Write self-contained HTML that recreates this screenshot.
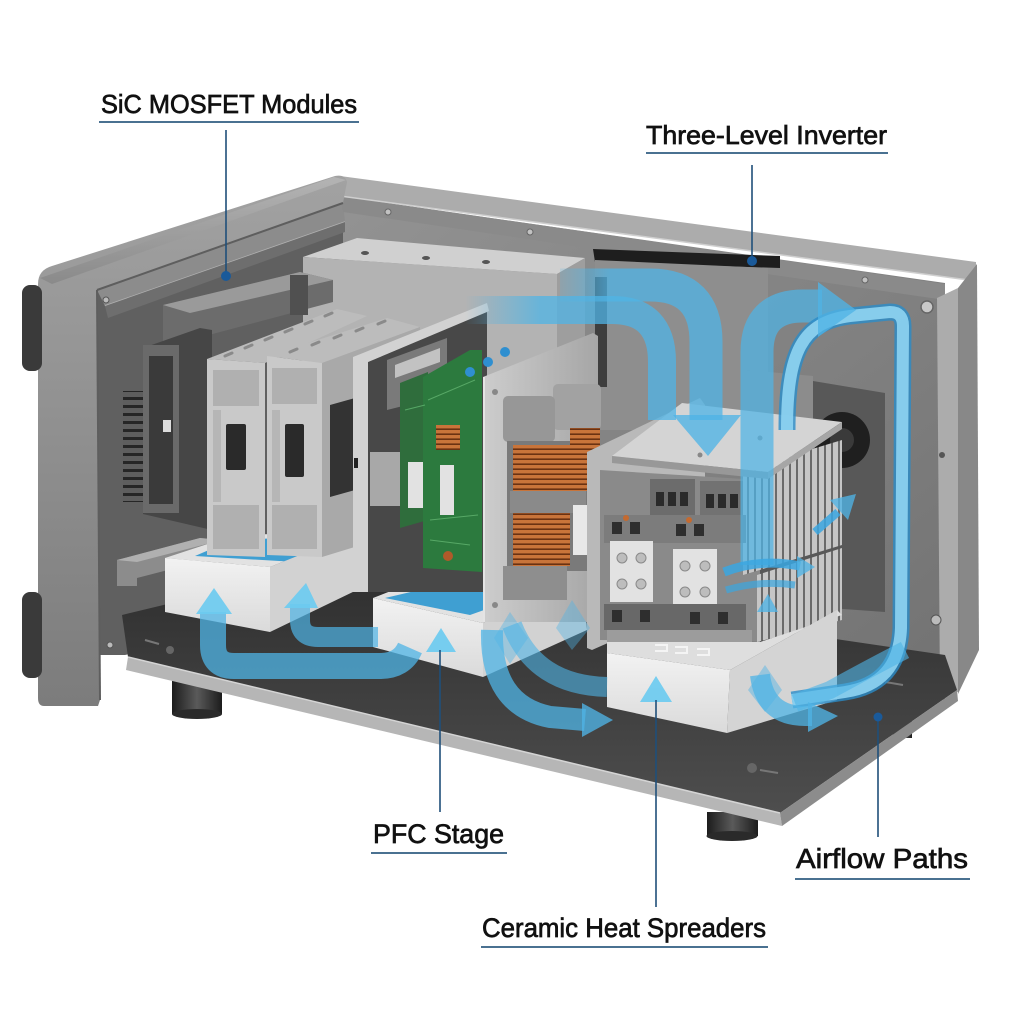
<!DOCTYPE html>
<html><head><meta charset="utf-8"><style>
html,body{margin:0;padding:0;background:#fff;}
svg{display:block;}
text{font-family:"Liberation Sans",Arial,sans-serif;fill:#111;stroke:#111;stroke-width:0.7;}
</style></head><body>
<svg width="1024" height="1024" viewBox="0 0 1024 1024" xmlns="http://www.w3.org/2000/svg">
<defs>
<linearGradient id="bez" x1="0" y1="0" x2="0" y2="1"><stop offset="0" stop-color="#a2a2a2"/><stop offset="1" stop-color="#7c7c7c"/></linearGradient>
<linearGradient id="bezT" x1="0" y1="0" x2="0" y2="1"><stop offset="0" stop-color="#b4b4b4"/><stop offset="1" stop-color="#8a8a8a"/></linearGradient>
<linearGradient id="back" x1="0" y1="0" x2="1" y2="1"><stop offset="0" stop-color="#939393"/><stop offset="1" stop-color="#727272"/></linearGradient>
<linearGradient id="floor" x1="0" y1="0" x2="0" y2="1"><stop offset="0" stop-color="#2e2e2e"/><stop offset="1" stop-color="#4e4e4e"/></linearGradient>
<linearGradient id="foot" x1="0" y1="0" x2="1" y2="0"><stop offset="0" stop-color="#1c1c1c"/><stop offset="0.5" stop-color="#5a5a5a"/><stop offset="1" stop-color="#1c1c1c"/></linearGradient>
<linearGradient id="blk" x1="0" y1="0" x2="0" y2="1"><stop offset="0" stop-color="#f2f2f2"/><stop offset="1" stop-color="#dadada"/></linearGradient>
<linearGradient id="pan" x1="0" y1="0" x2="1" y2="0"><stop offset="0" stop-color="#cdcdcd"/><stop offset="1" stop-color="#a6a6a6"/></linearGradient>
<linearGradient id="fadeA" gradientUnits="userSpaceOnUse" x1="545" y1="0" x2="610" y2="0"><stop offset="0" stop-color="#4fb4e6" stop-opacity="0"/><stop offset="1" stop-color="#4fb4e6" stop-opacity="0.75"/></linearGradient>
<linearGradient id="fadeB" gradientUnits="userSpaceOnUse" x1="465" y1="0" x2="540" y2="0"><stop offset="0" stop-color="#4fb4e6" stop-opacity="0"/><stop offset="1" stop-color="#4fb4e6" stop-opacity="0.75"/></linearGradient>
<pattern id="copper" patternUnits="userSpaceOnUse" width="10" height="5"><rect width="10" height="5" fill="#c8743a"/><rect y="3.4" width="10" height="1.6" fill="#6a3212"/></pattern>
<pattern id="fins" patternUnits="userSpaceOnUse" width="7" height="10"><rect width="7" height="10" fill="#c6c6c6"/><rect x="5" width="2" height="10" fill="#6a6a6a"/></pattern>
<pattern id="hfins" patternUnits="userSpaceOnUse" width="10" height="8"><rect width="10" height="8" fill="#5e5e5e"/><rect y="5" width="10" height="3" fill="#262626"/></pattern>
</defs>

<!-- back wall -->
<polygon points="330,195 945,283 945,700 330,610" fill="url(#back)"/>
<!-- left interior wall -->
<polygon points="97,290 343,203 343,610 125,655 97,655" fill="#606060"/>
<polygon points="97,290 343,203 345,222 105,306" fill="#8c8c8c"/>
<line x1="105" y1="306" x2="345" y2="222" stroke="#b0b0b0" stroke-width="1.5"/>
<polygon points="105,306 345,222 345,232 108,318" fill="#6e6e6e"/>
<!-- rim -->
<polygon points="340,176 976,262 976,281 340,196" fill="#acacac"/>
<polygon points="340,196 945,284 945,300 343,212" fill="#8a8a8a"/>
<line x1="340" y1="196" x2="976" y2="281" stroke="#cfcfcf" stroke-width="1.5"/>
<!-- right frame -->
<polygon points="937,298 958,288 958,692 940,694" fill="#acacac"/>
<polygon points="958,288 977,264 979,650 958,694" fill="#888"/>
<circle cx="927" cy="307" r="6" fill="#c8c8c8" stroke="#666" stroke-width="1.5"/>
<circle cx="942" cy="455" r="3" fill="#555"/>
<circle cx="936" cy="620" r="5" fill="#bbb" stroke="#555"/>
<!-- screws on back wall -->
<g fill="#c2c2c2" stroke="#666" stroke-width="1">
<circle cx="388" cy="212" r="3"/><circle cx="530" cy="232" r="3"/><circle cx="727" cy="259" r="3"/><circle cx="865" cy="280" r="3"/><circle cx="601" cy="266" r="3"/><circle cx="757" cy="290" r="3"/>
</g>
<!-- rear inverter plate -->
<polygon points="593,249 780,256 780,268 595,262" fill="#1e1e1e"/>
<polygon points="595,260 768,268 768,430 595,430" fill="#8e8e8e"/>
<rect x="595" y="277" width="12" height="110" fill="#3e3e3e"/>
<!-- dark fan panel -->
<polygon points="747,370 885,393 885,612 747,602" fill="#585858"/>
<circle cx="842" cy="440" r="28" fill="#1f1f1f"/>
<circle cx="842" cy="440" r="12" fill="#3a3a3a"/>
<polygon points="747,370 813,376 813,420 747,415" fill="#8c8c8c"/>

<!-- feet -->
<rect x="172" y="678" width="50" height="36" fill="url(#foot)"/>
<ellipse cx="197" cy="714" rx="25" ry="5" fill="#2a2a2a"/>
<rect x="707" y="812" width="51" height="24" fill="url(#foot)"/>
<ellipse cx="732" cy="836" rx="25.5" ry="5" fill="#2a2a2a"/>
<rect x="893" y="718" width="19" height="20" fill="url(#foot)"/>
<!-- floor plate -->
<polygon points="122,615 330,565 945,655 957,690 780,813 128,657" fill="url(#floor)"/>
<polygon points="128,657 780,813 782,826 126,670" fill="#b6b6b6"/>
<polygon points="780,813 957,690 958,701 782,826" fill="#8c8c8c"/>
<line x1="128" y1="657" x2="780" y2="813" stroke="#d4d4d4" stroke-width="1.5"/>
<g fill="none" stroke="#777" stroke-width="2">
<path d="M760,770 l18,3"/><path d="M885,682 l18,3"/><path d="M145,640 l14,4"/>
</g>
<circle cx="752" cy="768" r="5" fill="#666"/>
<circle cx="170" cy="650" r="4" fill="#666"/>

<!-- left bezel -->
<path d="M38,284 Q38,270 52,266 L335,176 Q345,174 347,182 L343,203 L97,290 L100,700 L98,706 L44,706 Q38,706 38,698 Z" fill="url(#bez)"/>
<polygon points="40,278 334,177 346,180 52,284" fill="url(#bezT)"/>
<line x1="97" y1="290" x2="343" y2="203" stroke="#5e5e5e" stroke-width="2"/>
<line x1="97" y1="290" x2="100" y2="700" stroke="#5e5e5e" stroke-width="2"/>
<rect x="22" y="285" width="20" height="86" rx="8" fill="#3a3a3a"/>
<rect x="22" y="592" width="20" height="86" rx="8" fill="#3a3a3a"/>
<circle cx="106" cy="300" r="3" fill="#bbb" stroke="#555"/>
<circle cx="110" cy="645" r="3" fill="#bbb" stroke="#555"/>

<!-- rear silver box -->
<polygon points="303,257 357,238 585,258 557,274" fill="#d0d0d0"/>
<polygon points="303,257 557,274 557,440 303,420" fill="#b3b3b3"/>
<polygon points="557,274 585,258 585,420 557,440" fill="#9e9e9e"/>
<g fill="#555"><ellipse cx="365" cy="253" rx="4" ry="2"/><ellipse cx="426" cy="258" rx="4" ry="2"/><ellipse cx="486" cy="262" rx="4" ry="2"/></g>

<!-- bracket (handle) -->
<polygon points="163,305 300,272 333,280 333,302 205,336 205,352 163,352" fill="#6c6c6c"/>
<polygon points="163,305 300,272 333,280 190,313" fill="#9a9a9a"/>
<rect x="290" y="275" width="18" height="40" fill="#505050"/>
<!-- dark module -->
<polygon points="143,348 200,328 212,330 212,530 143,514" fill="#464646"/>
<rect x="143" y="345" width="36" height="168" fill="#6a6a6a"/>
<rect x="149" y="356" width="24" height="148" fill="#3a3a3a"/>
<rect x="123" y="391" width="20" height="111" fill="url(#hfins)"/>
<rect x="163" y="420" width="8" height="12" fill="#ddd"/>

<!-- left bracket -->
<polygon points="117,560 200,538 222,540 222,556 137,578 137,586 117,586" fill="#8c8c8c"/>
<polygon points="117,560 200,538 222,540 137,562" fill="#b0b0b0"/>

<!-- block 1 -->
<polygon points="165,558 235,535 357,532 270,567" fill="#e2e2e2"/>
<polygon points="195,556 232,540 330,536 296,562" fill="#3f9fd2"/>
<polygon points="165,558 270,567 270,632 165,612" fill="url(#blk)"/>
<polygon points="270,567 357,532 357,590 270,632" fill="#d2d2d2"/>

<!-- light modules -->
<polygon points="207,359 337,309 367,316 265,363" fill="#bcbcbc"/>
<g stroke="#8a8a8a" stroke-width="3" stroke-linecap="round">
<line x1="225" y1="356" x2="232" y2="353"/><line x1="245" y1="348" x2="252" y2="345"/><line x1="265" y1="340" x2="272" y2="337"/><line x1="285" y1="332" x2="292" y2="329"/><line x1="305" y1="324" x2="312" y2="321"/><line x1="325" y1="316" x2="332" y2="313"/>
</g>
<polygon points="207,359 265,363 265,557 207,555" fill="#c9c9c9"/>
<rect x="213" y="370" width="46" height="36" fill="#b0b0b0"/>
<rect x="213" y="505" width="46" height="44" fill="#b0b0b0"/>
<rect x="213" y="410" width="8" height="92" fill="#b6b6b6"/>
<rect x="226" y="424" width="20" height="46" rx="2" fill="#2a2a2a"/>
<polygon points="267,356 387,318 420,327 322,363" fill="#bcbcbc"/>
<g stroke="#8a8a8a" stroke-width="3" stroke-linecap="round">
<line x1="290" y1="352" x2="297" y2="349"/><line x1="312" y1="345" x2="319" y2="342"/><line x1="334" y1="338" x2="341" y2="335"/><line x1="356" y1="331" x2="363" y2="328"/><line x1="378" y1="324" x2="385" y2="321"/>
</g>
<polygon points="322,363 420,327 420,527 322,557" fill="#a9a9a9"/>
<polygon points="330,405 355,398 355,490 330,497" fill="#333"/>
<polygon points="267,356 322,363 322,557 267,555" fill="#c9c9c9"/>
<rect x="272" y="368" width="45" height="36" fill="#b0b0b0"/>
<rect x="272" y="505" width="45" height="44" fill="#b0b0b0"/>
<rect x="272" y="410" width="8" height="92" fill="#b6b6b6"/>
<rect x="285" y="424" width="19" height="53" rx="2" fill="#2a2a2a"/>

<!-- block 2 -->
<polygon points="373,598 470,560 583,573 483,623" fill="#e2e2e2"/>
<polygon points="385,598 462,580 540,590 470,615" fill="#3f9fd2"/>
<polygon points="373,598 483,623 483,677 373,647" fill="url(#blk)"/>
<polygon points="483,623 583,573 587,630 483,677" fill="#d2d2d2"/>

<!-- PFC panel -->
<polygon points="368,362 487,312 487,592 368,592" fill="#484848"/>
<polygon points="353,357 487,303 489,311 368,362 368,592 353,592" fill="#d2d2d2"/>
<rect x="354" y="458" width="4" height="10" fill="#222"/>
<polygon points="387,360 447,338 447,395 387,410" fill="#7a7a7a"/>
<polygon points="395,365 440,348 440,362 395,378" fill="#c2c2c2"/>
<rect x="370" y="452" width="36" height="54" fill="#a8a8a8"/>
<polygon points="400,383 428,372 428,520 400,528" fill="#2f6d3c"/>
<polygon points="423,377 470,350 482,350 482,572 423,568" fill="#2c7a3e"/>
<g stroke="#57a866" stroke-width="1" fill="none"><path d="M428,400 L475,380"/><path d="M430,520 L478,515"/><path d="M405,410 L425,405"/><path d="M430,540 L470,545"/></g>
<circle cx="470" cy="372" r="5" fill="#2f8fd0"/><circle cx="488" cy="362" r="5" fill="#2f8fd0"/><circle cx="505" cy="352" r="5" fill="#2f8fd0"/>
<rect x="436" y="425" width="24" height="25" fill="url(#copper)"/>
<rect x="408" y="462" width="15" height="46" fill="#e2e2e2"/>
<rect x="440" y="465" width="14" height="50" fill="#e2e2e2"/>
<circle cx="448" cy="556" r="5" fill="#b05a2a"/>

<!-- inductor panel -->
<polygon points="483,377 593,333 598,336 598,622 483,622" fill="url(#pan)"/>
<line x1="484" y1="377" x2="484" y2="622" stroke="#e4e4e4" stroke-width="2"/>
<circle cx="495" cy="392" r="3" fill="#888"/><circle cx="495" cy="605" r="3" fill="#888"/>
<rect x="553" y="384" width="48" height="46" rx="5" fill="#a2a2a2"/>
<rect x="503" y="396" width="52" height="46" rx="5" fill="#979797"/>
<rect x="507" y="441" width="84" height="130" fill="#7a7a7a"/>
<rect x="570" y="428" width="30" height="63" fill="url(#copper)"/>
<rect x="513" y="445" width="57" height="46" fill="url(#copper)"/>
<rect x="510" y="491" width="76" height="22" fill="#8a8a8a"/>
<rect x="513" y="513" width="57" height="53" fill="url(#copper)"/>
<rect x="503" y="566" width="64" height="34" fill="#8e8e8e"/>
<rect x="573" y="505" width="15" height="50" fill="#e8e8e8"/>

<!-- inverter assembly -->
<polygon points="587,452 700,398 705,405 705,600 592,650 587,648" fill="#b9b9b9"/>
<polygon points="600,470 760,480 760,642 600,640" fill="#8a8a8a"/>
<polygon points="743,470 842,440 842,545 743,575" fill="url(#fins)"/>
<polygon points="757,575 842,548 842,620 757,642" fill="url(#fins)"/>
<polygon points="612,456 682,403 842,422 768,472" fill="#d4d4d4"/>
<polygon points="612,456 768,472 768,479 612,463" fill="#989898"/>
<polygon points="768,472 842,422 842,429 768,479" fill="#a6a6a6"/>
<circle cx="700" cy="455" r="2.5" fill="#888"/><circle cx="760" cy="438" r="2.5" fill="#888"/>
<rect x="650" y="479" width="45" height="36" fill="#6c6c6c"/>
<rect x="700" y="481" width="43" height="38" fill="#727272"/>
<g fill="#2a2a2a"><rect x="656" y="492" width="8" height="14"/><rect x="668" y="492" width="8" height="14"/><rect x="680" y="492" width="8" height="14"/><rect x="706" y="494" width="8" height="14"/><rect x="718" y="494" width="8" height="14"/><rect x="730" y="494" width="8" height="14"/></g>
<rect x="604" y="515" width="142" height="28" fill="#7c7c7c"/>
<g fill="#2e2e2e"><rect x="612" y="522" width="10" height="12"/><rect x="630" y="522" width="10" height="12"/><rect x="676" y="524" width="10" height="12"/><rect x="694" y="524" width="10" height="12"/></g>
<circle cx="626" cy="518" r="3" fill="#c46a30"/><circle cx="689" cy="520" r="3" fill="#c46a30"/>
<rect x="610" y="541" width="43" height="61" fill="#e2e2e2"/>
<rect x="673" y="549" width="44" height="60" fill="#e2e2e2"/>
<g fill="#bdbdbd" stroke="#8a8a8a"><circle cx="622" cy="558" r="5"/><circle cx="641" cy="558" r="5"/><circle cx="622" cy="584" r="5"/><circle cx="641" cy="584" r="5"/><circle cx="685" cy="566" r="5"/><circle cx="705" cy="566" r="5"/><circle cx="685" cy="592" r="5"/><circle cx="705" cy="592" r="5"/></g>
<rect x="604" y="604" width="142" height="26" fill="#686868"/>
<g fill="#2e2e2e"><rect x="612" y="610" width="10" height="12"/><rect x="640" y="610" width="10" height="12"/><rect x="690" y="612" width="10" height="12"/><rect x="718" y="612" width="10" height="12"/></g>
<rect x="607" y="630" width="145" height="12" fill="#9c9c9c"/>

<!-- block 3 -->
<polygon points="607,642 760,642 842,615 837,610 730,670 607,653" fill="#dedede"/>
<g fill="none" stroke="#f4f4f4" stroke-width="2"><path d="M655,645 h12 v6 h-12"/><path d="M675,647 h12 v6 h-12"/><path d="M697,649 h12 v6 h-12"/></g>
<polygon points="607,653 730,670 727,733 607,707" fill="url(#blk)"/>
<polygon points="730,670 837,610 837,700 727,733" fill="#d4d4d4"/>

<!-- airflow arrows -->
<g fill="none" stroke-linecap="butt">
<path d="M560,285 L650,285 Q706,285 706,342 L706,420" stroke="url(#fadeA)" stroke-width="33"/>
<path d="M465,310 L612,310 Q662,310 662,362 L662,420" stroke="url(#fadeB)" stroke-width="28"/>
<path d="M757,565 L757,352 Q757,306 803,306 L822,306" stroke="#4fb4e6" stroke-opacity="0.72" stroke-width="33"/>
<path d="M787,430 C787,352 802,322 850,316 L890,312 Q903,312 903,326 L901,628 Q899,684 845,692 L792,700" stroke="#2a8cc8" stroke-opacity="0.8" stroke-width="17"/>
<path d="M787,430 C787,352 802,322 850,316 L890,312 Q903,312 903,326 L901,628 Q899,684 845,692 L792,700" stroke="#8fd4f2" stroke-opacity="0.9" stroke-width="12"/>
<path d="M905,650 Q870,668 830,690 L795,703" stroke="#4fb4e6" stroke-opacity="0.6" stroke-width="18"/>
<path d="M760,675 Q765,716 805,716 L812,716" stroke="#4fb4e6" stroke-opacity="0.75" stroke-width="20"/>
<path d="M213,612 L213,645 Q213,666 234,666 L380,666 Q402,666 410,648" stroke="#4fb4e6" stroke-opacity="0.75" stroke-width="26"/>
<path d="M300,604 L300,620 Q300,637 318,637 L378,637" stroke="#4fb4e6" stroke-opacity="0.7" stroke-width="20"/>
<path d="M492,630 Q490,705 550,717 L585,720" stroke="#4fb4e6" stroke-opacity="0.75" stroke-width="22"/>
<path d="M512,625 Q535,685 607,687" stroke="#4fb4e6" stroke-opacity="0.6" stroke-width="20"/>
<path d="M724,572 Q760,558 800,566" stroke="#3aa6e0" stroke-opacity="0.85" stroke-width="9"/>
<path d="M726,590 Q760,580 795,585" stroke="#3aa6e0" stroke-opacity="0.7" stroke-width="7"/>
<path d="M815,532 L838,512" stroke="#3aa6e0" stroke-opacity="0.85" stroke-width="8"/>
</g>
<g fill="#4fb4e6" fill-opacity="0.78">
<polygon points="673,415 741,415 708,456"/>
<polygon points="818,282 818,337 856,310"/>
<polygon points="808,702 808,732 838,716"/>
<polygon points="582,703 582,737 613,720"/>
<polygon points="765,665 782,690 765,712 748,690" fill-opacity="0.45"/>
<polygon points="572,600 590,628 572,650 556,628" fill-opacity="0.4"/>
<polygon points="510,612 528,638 510,664 494,638" fill-opacity="0.4"/>
<polygon points="797,556 797,578 815,567"/>
<polygon points="830,500 848,520 856,494"/>
<polygon points="757,612 778,612 768,594"/>
</g>
<g fill="#6ccbf0" fill-opacity="0.92">
<polygon points="196,614 232,614 214,588"/>
<polygon points="284,608 318,608 306,583"/>
<polygon points="426,652 456,652 441,628"/>
<polygon points="640,702 672,702 656,676"/>
</g>

<!-- leader lines -->
<g stroke="#1f4f7a" stroke-width="1.6">
<line x1="226" y1="130" x2="226" y2="276"/>
<line x1="752" y1="165" x2="752" y2="261"/>
<line x1="440" y1="650" x2="440" y2="812"/>
<line x1="656" y1="700" x2="656" y2="907"/>
<line x1="878" y1="717" x2="878" y2="837"/>
</g>
<g fill="#1a5a9a">
<circle cx="226" cy="276" r="5"/><circle cx="752" cy="261" r="5"/><circle cx="878" cy="717" r="4.5"/>
</g>
<!-- underlines -->
<g stroke="#4a7191" stroke-width="2">
<line x1="99" y1="122" x2="359" y2="122"/>
<line x1="646" y1="153" x2="888" y2="153"/>
<line x1="371" y1="853" x2="507" y2="853"/>
<line x1="481" y1="947" x2="768" y2="947"/>
<line x1="795" y1="879" x2="970" y2="879"/>
</g>
<!-- labels -->
<text x="101" y="113" font-size="26" textLength="256" lengthAdjust="spacingAndGlyphs">SiC MOSFET Modules</text>
<text x="646" y="144" font-size="26" textLength="241" lengthAdjust="spacingAndGlyphs">Three-Level Inverter</text>
<text x="373" y="843" font-size="27" textLength="131" lengthAdjust="spacingAndGlyphs">PFC Stage</text>
<text x="482" y="937" font-size="27" textLength="284" lengthAdjust="spacingAndGlyphs">Ceramic Heat Spreaders</text>
<text x="796" y="868" font-size="28" textLength="172" lengthAdjust="spacingAndGlyphs">Airflow Paths</text>
</svg>
</body></html>
